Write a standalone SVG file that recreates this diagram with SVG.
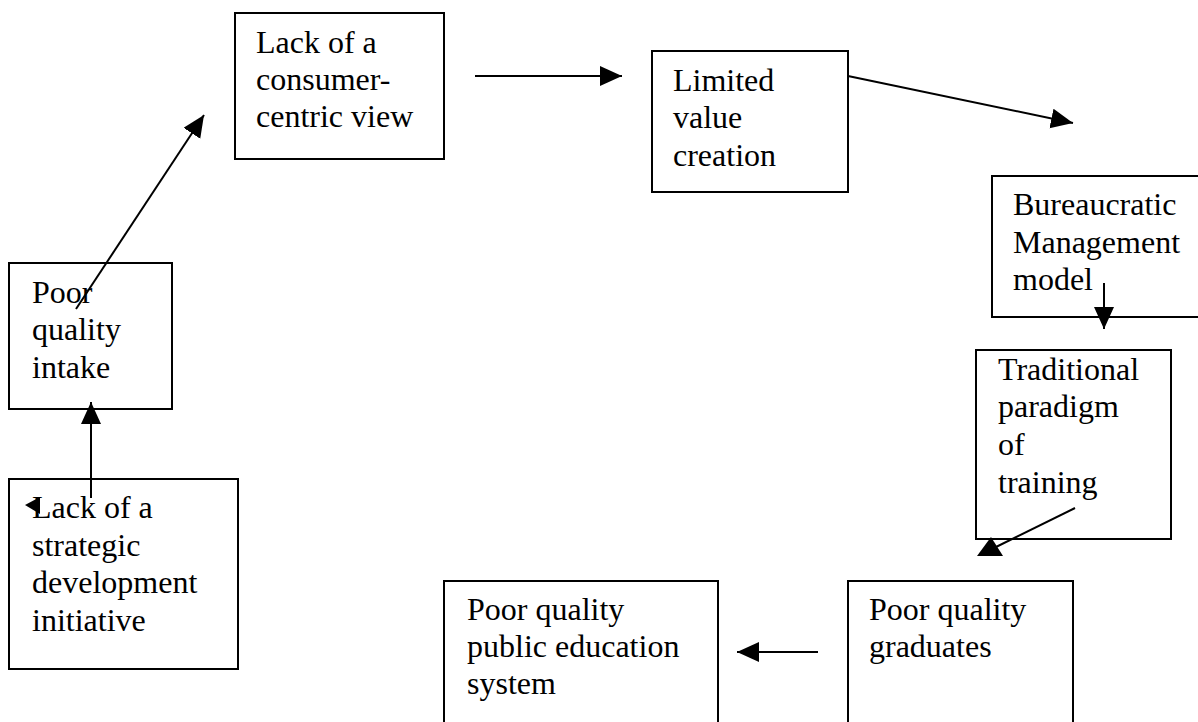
<svg xmlns="http://www.w3.org/2000/svg" width="1198" height="722" viewBox="0 0 1198 722">
<style>
.box{fill:none;stroke:#000;stroke-width:2}
.t{font-family:"Liberation Serif","Times New Roman",serif;font-size:32px;fill:#000}
.c{stroke:#000;stroke-width:2;fill:none}
</style>
<defs>
<marker id="ah" markerUnits="userSpaceOnUse" markerWidth="24" markerHeight="22" refX="22" refY="10" orient="auto" viewBox="0 0 24 22">
<path d="M0,0 L22,10 L0,20 z" fill="#000"/>
</marker>
</defs>
<rect width="1198" height="722" fill="#fff"/>
<g id="n1"><rect class="box" x="235" y="13" width="209" height="146"/>
<text class="t" x="256" y="53">Lack of a</text><text class="t" x="256" y="90">consumer-</text><text class="t" x="256" y="127">centric view</text></g>
<g id="n2"><rect class="box" x="652" y="51" width="196" height="141"/>
<text class="t" x="673" y="91">Limited</text><text class="t" x="673" y="128">value</text><text class="t" x="673" y="166">creation</text></g>
<g id="n3"><rect class="box" x="992" y="176" width="220" height="141"/>
<text class="t" x="1013" y="215">Bureaucratic</text><text class="t" x="1013" y="253">Management</text><text class="t" x="1013" y="290">model</text></g>
<g id="n4"><rect class="box" x="976" y="350" width="195" height="189"/>
<text class="t" x="998" y="380">Traditional</text><text class="t" x="998" y="417">paradigm</text><text class="t" x="998" y="455">of</text><text class="t" x="998" y="493">training</text></g>
<g id="n5"><rect class="box" x="848" y="581" width="225" height="180"/>
<text class="t" x="869" y="620">Poor quality</text><text class="t" x="869" y="657">graduates</text></g>
<g id="n6"><rect class="box" x="444" y="581" width="274" height="180"/>
<text class="t" x="467" y="620">Poor quality</text><text class="t" x="467" y="657">public education</text><text class="t" x="467" y="694">system</text></g>
<g id="n7"><rect class="box" x="9" y="263" width="163" height="146"/>
<text class="t" x="32" y="303">Poor</text><text class="t" x="32" y="340">quality</text><text class="t" x="32" y="378">intake</text></g>
<g id="n8"><rect class="box" x="9" y="479" width="229" height="190"/>
<text class="t" x="32" y="518">Lack of a</text><text class="t" x="32" y="556">strategic</text><text class="t" x="32" y="593">development</text><text class="t" x="32" y="631">initiative</text></g>
<g id="connectors">
<line class="c" x1="475" y1="76" x2="622" y2="76" marker-end="url(#ah)"/>
<line class="c" x1="848" y1="76" x2="1073" y2="123" marker-end="url(#ah)"/>
<line class="c" x1="1104" y1="283" x2="1104" y2="329" marker-end="url(#ah)"/>
<line class="c" x1="1075" y1="508" x2="996" y2="547"/>
<polygon points="991,537 977,556 1003,556" fill="#000"/>
<line class="c" x1="818" y1="652" x2="737" y2="652" marker-end="url(#ah)"/>
<line class="c" x1="91" y1="498" x2="91" y2="402" marker-end="url(#ah)"/>
<line class="c" x1="76" y1="309" x2="204" y2="115" marker-end="url(#ah)"/>
<polygon points="25,505 40,497 40,514" fill="#000"/>
</g>
</svg>
